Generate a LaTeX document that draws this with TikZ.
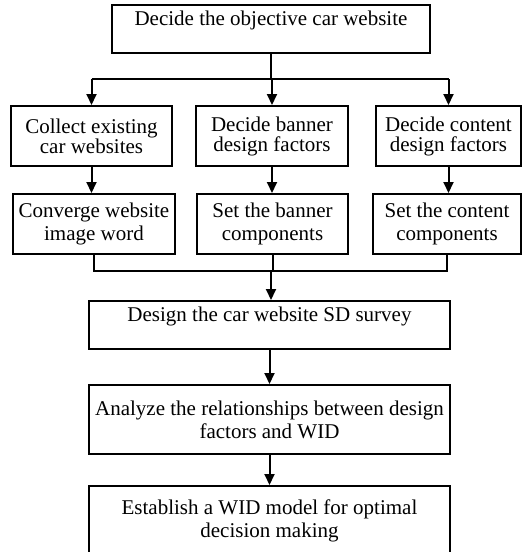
\documentclass[tikz,border=0pt]{standalone}
\usepackage{fontspec}
\setmainfont{Liberation Serif}
\usepackage{tikz}
\usetikzlibrary{arrows.meta, positioning}
\tikzstyle{arrow} = [line width=2pt,-{Triangle[width=10pt,length=11pt]}]
\tikzset{every node/.style={align=center}}

\begin{document}
\begin{tikzpicture}[x=1pt, y=-1pt,
    box/.style={draw, line width=2pt, inner sep=4pt, font=\fontsize{21}{23}\selectfont},
    tight/.style={font=\fontsize{21}{20}\selectfont},
    oneline/.style={text height=16pt, text depth=24pt},
    link/.style={line width=2pt}
]
  \useasboundingbox (0,0) rectangle (522,552);

  \node (goal)       at (271,29)      [box, oneline, minimum width=318pt, minimum height=48pt] {Decide the objective car website};

  \node (collect)    at (91.5,136)    [box, tight, minimum width=161pt, minimum height=60pt] {Collect existing\\car websites};
  \node (banner)     at (272,136)     [box, tight, minimum width=152pt, minimum height=60pt] {Decide banner\\design factors};
  \node (content)    at (448.5,136)   [box, tight, minimum width=145pt, minimum height=60pt] {Decide content\\design factors};

  \node (converge)   at (94,224)      [box, minimum width=162pt, minimum height=60pt] {Converge website\\image word};
  \node (setbanner)  at (272.5,224)   [box, minimum width=151pt, minimum height=60pt] {Set the banner\\components};
  \node (setcontent) at (447,224)     [box, minimum width=148pt, minimum height=60pt] {Set the content\\components};

  \node (survey)     at (269.5,325)   [box, oneline, minimum width=361pt, minimum height=48pt] {Design the car website SD survey};
  \node (analyze)    at (269.5,419.5) [box, minimum width=361pt, minimum height=69pt] {Analyze the relationships between design\\factors and WID};
  \node (model)      at (269.5,520.5) [box, minimum width=361pt, minimum height=69pt] {Establish a WID model for optimal\\decision making};

  \coordinate (split) at (271,79);
  \coordinate (merge) at (271,271);

  % split to the three design tracks
  \draw[link] (goal.south) -- (split);
  \draw[link] (split -| collect.north) -- (split -| content.north);
  \foreach \n in {collect,banner,content}
      \draw[arrow] (split -| \n.north) -- (\n.north);

  \foreach \a/\b in {collect/converge, banner/setbanner, content/setcontent}
      \draw[arrow] (\a.south) -- (\a.south |- \b.north);

  % merge back
  \draw[link] (converge.south) -- (converge.south |- merge) -- (setcontent.south |- merge) -- (setcontent.south);
  \draw[link] (setbanner.south) -- (setbanner.south |- merge);
  \draw[arrow] (merge) -- (merge |- survey.north);

  \draw[arrow] (survey) -- (analyze);
  \draw[arrow] (analyze) -- (model);
\end{tikzpicture}
\end{document}
